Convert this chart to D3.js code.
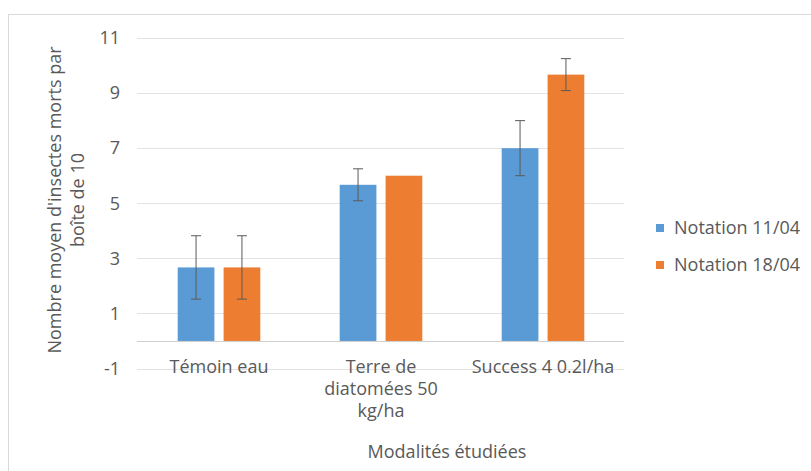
<!DOCTYPE html>
<html>
<head>
<meta charset="utf-8">
<script src="https://cdn.jsdelivr.net/npm/d3@7"></script>
<style>
  html, body { margin: 0; padding: 0; background: #fff; }
  text { font-family: "Open Sans", sans-serif; fill: #595959; }
</style>
</head>
<body>
<svg id="chart" width="811" height="471"></svg>
<script>
const categories = [["Témoin eau"], ["Terre de", "diatomées 50", "kg/ha"], ["Success 4 0.2l/ha"]];
const categoryKeys = ["Témoin eau", "Terre de diatomées 50 kg/ha", "Success 4 0.2l/ha"];
const seriesNames = ["Notation 11/04", "Notation 18/04"];
const values1104 = [2.67, 5.67, 7.0];
const values1804 = [2.67, 6.0, 9.67];
const errors1104 = [1.15, 0.58, 1.0];
const errors1804 = [1.15, 0, 0.58];
const yTicks = [-1, 1, 3, 5, 7, 9, 11];
const colors = ["#5B9BD5", "#ED7D31"];

const FS = 18;
const svg = d3.select("#chart");

// outer chart border
svg.append("rect").attr("x", 8.5).attr("y", 14.5).attr("width", 820).attr("height", 480)
  .attr("fill", "none").attr("stroke", "#D9D9D9").attr("stroke-width", 1);

const y = d3.scaleLinear().domain([-1, 11]).range([368.5, 38]);
const x0 = d3.scaleBand().domain(categoryKeys).range([138, 624]).paddingInner(0).paddingOuter(0);
const bw = x0.bandwidth();
const x1 = d3.scaleBand().domain(seriesNames).range([bw * 0.245, bw * 0.755]).paddingInner(0.2);

// gridlines
svg.append("g").selectAll("line").data(yTicks).join("line")
  .attr("x1", 137).attr("x2", 624)
  .attr("y1", d => Math.round(y(d)) + 0.5).attr("y2", d => Math.round(y(d)) + 0.5)
  .attr("stroke", "#E3E3E3").attr("stroke-width", 1);

// y tick labels
svg.append("g").selectAll("text").data(yTicks).join("text")
  .attr("x", 120).attr("y", d => y(d)).attr("dy", "0.35em")
  .attr("text-anchor", "end").attr("font-size", FS).text(d => d);

const data = categoryKeys.map((c, i) => ({
  key: c,
  items: [
    { s: seriesNames[0], v: values1104[i], e: errors1104[i], c: colors[0] },
    { s: seriesNames[1], v: values1804[i], e: errors1804[i], c: colors[1] }
  ]
}));

const groups = svg.append("g").selectAll("g").data(data).join("g")
  .attr("transform", d => `translate(${x0(d.key)},0)`);

groups.selectAll("rect").data(d => d.items).join("rect")
  .attr("x", d => x1(d.s)).attr("width", x1.bandwidth())
  .attr("y", d => y(d.v)).attr("height", d => y(0) - y(d.v))
  .attr("fill", d => d.c);

// horizontal axis line at 0
svg.append("line").attr("x1", 137).attr("x2", 624)
  .attr("y1", Math.round(y(0)) + 0.5).attr("y2", Math.round(y(0)) + 0.5)
  .attr("stroke", "#D0D0D0").attr("stroke-width", 1);

// error bars
const eb = groups.selectAll("g.eb").data(d => d.items.filter(it => it.e > 0)).join("g").attr("class", "eb");
const cx = d => x1(d.s) + x1.bandwidth() / 2;
eb.append("line")
  .attr("x1", cx).attr("x2", cx)
  .attr("y1", d => y(d.v + d.e)).attr("y2", d => y(d.v - d.e))
  .attr("stroke", "#5A5A5A").attr("stroke-width", 1);
eb.append("line")
  .attr("x1", d => cx(d) - 5).attr("x2", d => cx(d) + 5)
  .attr("y1", d => y(d.v + d.e)).attr("y2", d => y(d.v + d.e))
  .attr("stroke", "#5A5A5A").attr("stroke-width", 1);
eb.append("line")
  .attr("x1", d => cx(d) - 5).attr("x2", d => cx(d) + 5)
  .attr("y1", d => y(d.v - d.e)).attr("y2", d => y(d.v - d.e))
  .attr("stroke", "#5A5A5A").attr("stroke-width", 1);

// category labels
const cl = svg.append("g").selectAll("text").data(categoryKeys).join("text")
  .attr("x", d => x0(d) + bw / 2).attr("y", 373)
  .attr("text-anchor", "middle").attr("font-size", FS);
cl.each(function(d, i) {
  d3.select(this).selectAll("tspan").data(categories[i]).join("tspan")
    .attr("x", x0(d) + bw / 2).attr("dy", (t, j) => j === 0 ? 0 : 22).text(t => t);
});

// axis titles
svg.append("text").attr("x", 447).attr("y", 458).attr("text-anchor", "middle")
  .attr("font-size", FS).text("Modalités étudiées");

const yt = svg.append("text").attr("transform", "translate(0,200) rotate(-90)")
  .attr("text-anchor", "middle").attr("font-size", FS);
yt.append("tspan").attr("x", 0).attr("y", 61).text("Nombre moyen d'insectes morts par");
yt.append("tspan").attr("x", 0).attr("y", 84).text("boîte de 10");

// legend
const lg = svg.append("g").selectAll("g").data(seriesNames).join("g")
  .attr("transform", (d, i) => `translate(656,${228 + i * 37})`);
lg.append("rect").attr("x", 0).attr("y", -4).attr("width", 8).attr("height", 8)
  .attr("fill", (d, i) => colors[i]);
lg.append("text").attr("x", 18).attr("y", 0).attr("dy", "0.35em")
  .attr("font-size", FS).text(d => d);
</script>
</body>
</html>
